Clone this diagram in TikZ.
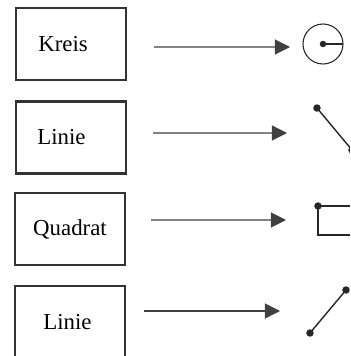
\documentclass[tikz,border=0pt]{standalone}
\usepackage{fontspec}
\setmainfont{Liberation Serif}
\usepackage{tikz}
\usetikzlibrary{arrows.meta}

\tikzset{
  kasten/.style={draw=black!80, line width=1.2pt, minimum width=2.2cm, minimum height=1.44cm,
    font=\fontsize{13}{15}\selectfont},
  pfeil/.style={black!75, line width=0.6pt, -{Triangle[length=0.3cm, width=0.3cm]}},
  figur/.style={black!85, line width=0.8pt},
}

\begin{document}
\begin{tikzpicture}[scale=1.0]
  \clip (0,0) rectangle (7,7.12);

  % Command boxes (text sits a little left of centre)
  \node[kasten] (kreis) at (1.42, 6.24) {\hspace*{-0.32cm}Kreis};
  \node[kasten] (linie) at (1.42, 4.37) {\hspace*{-0.38cm}Linie};
  \node[kasten] (quadrat) at (1.40, 2.54) {Quadrat};
  \node[kasten] (linie2) at (1.40, 0.68) {\hspace*{-0.1cm}Linie};

  % Arrow ends
  \coordinate (kreisziel) at (5.80, 6.18);
  \coordinate (linieziel) at (5.74, 4.46);
  \coordinate (quadratziel) at (5.72, 2.72);
  \coordinate (linie2ziel) at (5.60, 0.90);

  % Arrows
  \draw[pfeil] ([xshift=0.54cm, yshift=-0.06cm]kreis.east) -- (kreisziel);
  \draw[pfeil] ([xshift=0.52cm, yshift=0.09cm]linie.east) -- (linieziel);
  \draw[pfeil] ([xshift=0.50cm, yshift=0.18cm]quadrat.east) -- (quadratziel);
  \draw[pfeil] ([xshift=0.36cm, yshift=0.22cm]linie2.east) -- (linie2ziel);

  % Circle with radius
  \coordinate (M) at (6.46, 6.24);
  \draw[figur, line width=0.6pt] (M) circle (0.40);
  \draw[figur] (M) -- ++(0.40, 0);
  \fill[black!85] (M) circle (0.065);

  % Line going down
  \coordinate (A) at (6.34, 4.96);
  \coordinate (B) at (7.04, 4.12);
  \draw[figur] (A) -- (B);
  \fill[black!85] (A) circle (0.075) (B) circle (0.075);

  % Rectangle
  \coordinate (R) at (6.36, 3.00);
  \draw[figur] (R) rectangle (7.10, 2.42);
  \fill[black!85] (R) circle (0.075);

  % Line going up
  \coordinate (C) at (6.20, 0.46);
  \coordinate (D) at (6.92, 1.32);
  \draw[figur] (C) -- (D);
  \fill[black!85] (C) circle (0.075) (D) circle (0.075);

\end{tikzpicture}
\end{document}
